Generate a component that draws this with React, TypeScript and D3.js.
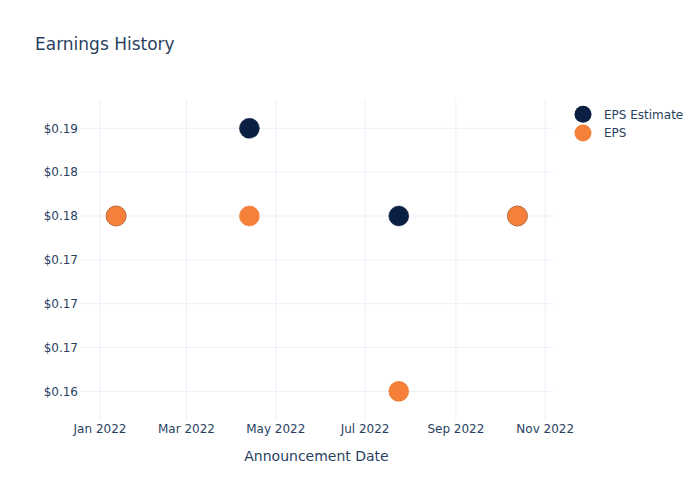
import React from "react";
import * as d3 from "d3";

const dates = ["2022-01-12", "2022-04-13", "2022-07-24", "2022-10-13"];
const epsEstimate = [0.18, 0.19, 0.18, 0.18];
const eps = [0.18, 0.18, 0.16, 0.18];
const yTicks = [0.16, 0.165, 0.17, 0.175, 0.18, 0.185, 0.19];
const xTicks = ["2022-01-01", "2022-03-01", "2022-05-01", "2022-07-01", "2022-09-01", "2022-11-01"];
const seriesNames = ["EPS Estimate", "EPS"];
const seriesColors = ["#0b1f42", "#f5803a"];

const W = 700, H = 500;
const M = { l: 80, r: 147, t: 100, b: 80 };
const FONT = "'DejaVu Sans', Verdana, sans-serif";
const TXT = "#2a3f5f";

export default function App() {
  const parse = d3.utcParse("%Y-%m-%d");
  const x = d3
    .scaleUtc()
    .domain([new Date(Date.UTC(2021, 11, 18, 8)), new Date(Date.UTC(2022, 10, 6, 7))])
    .range([M.l, W - M.r]);
  const y = d3.scaleLinear().domain([0.15673, 0.19323]).range([H - M.b, M.t]);
  const fmtY = d3.format("$.2f");
  const fmtX = d3.utcFormat("%b %Y");
  const series = [epsEstimate, eps];

  return (
    <svg width={W} height={H} style={{ position: "absolute", left: 0, top: 0, background: "#fff" }}>
      <rect width={W} height={H} fill="#fff" />
      <g>
        {yTicks.map((t) => (
          <line key={"gy" + t} x1={M.l} x2={W - M.r} y1={y(t)} y2={y(t)} stroke="#ebf0f8" strokeWidth={1} />
        ))}
        {xTicks.map((t) => (
          <line key={"gx" + t} x1={x(parse(t)!)} x2={x(parse(t)!)} y1={M.t} y2={H - M.b} stroke="#ebf0f8" strokeWidth={1} />
        ))}
      </g>
      <g fontFamily={FONT} fontSize={12} fill={TXT}>
        {yTicks.map((t) => (
          <text key={"ty" + t} x={M.l - 2} y={y(t)} dy="0.36em" textAnchor="end">
            {fmtY(t)}
          </text>
        ))}
        {xTicks.map((t) => (
          <text key={"tx" + t} x={x(parse(t)!)} y={433} textAnchor="middle">
            {fmtX(parse(t)!)}
          </text>
        ))}
      </g>
      {series.map((vals, si) => (
        <g key={"s" + si}>
          {vals.map((v, i) => (
            <circle
              key={i}
              cx={x(parse(dates[i])!)}
              cy={y(v)}
              r={10}
              fill={seriesColors[si]}
              stroke={si === 0 ? "#0b1f42" : "#e87530"}
              strokeWidth={0.5}
            />
          ))}
        </g>
      ))}
      <text x={35} y={50} fontFamily={FONT} fontSize={17} fill={TXT}>
        Earnings History
      </text>
      <text x={(M.l + W - M.r) / 2} y={461} textAnchor="middle" fontFamily={FONT} fontSize={14} fill={TXT}>
        Announcement Date
      </text>
      <g fontFamily={FONT} fontSize={12} fill={TXT}>
        {seriesNames.map((n, i) => (
          <g key={n} transform={`translate(583,${114.3 + i * 18.6})`}>
            <circle r={8.5} fill={seriesColors[i]} />
            <text x={21} dy="0.36em">
              {n}
            </text>
          </g>
        ))}
      </g>
    </svg>
  );
}
